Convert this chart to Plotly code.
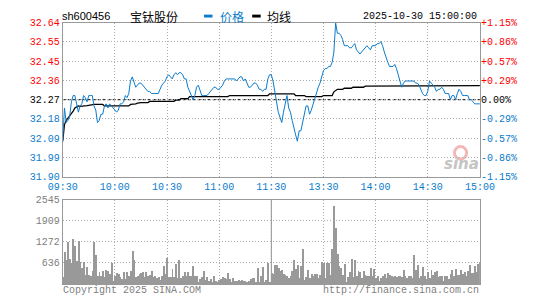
import numpy as np
import plotly.graph_objects as go

# ---------------- data ----------------
stock_code = "sh600456"
stock_name = "宝钛股份"
timestamp = "2025-10-30 15:00:00"
prev_close = 32.27
pct_max = 1.15

time_labels = ["09:30", "10:00", "10:30", "11:00", "11:30", "13:30", "14:00", "14:30", "15:00"]
price_labels = ["32.64", "32.55", "32.45", "32.36", "32.27", "32.18", "32.09", "31.99", "31.90"]
pct_labels = ["+1.15%", "+0.86%", "+0.57%", "+0.29%", "0.00%", "-0.29%", "-0.57%", "-0.86%", "-1.15%"]
vol_labels = ["636", "1272", "1909", "2545"]
vol_max = 2545

price = [
    32.07, 32.23, 32.16, 32.17, 32.19, 32.26, 32.29, 32.29, 32.25, 32.21,
    32.24, 32.25, 32.29, 32.28, 32.26, 32.29, 32.29, 32.29, 32.24, 32.22,
    32.16, 32.17, 32.20, 32.20, 32.24, 32.25, 32.23, 32.25, 32.24, 32.23,
    32.22, 32.21, 32.22, 32.25, 32.25, 32.26, 32.29, 32.28, 32.30, 32.36,
    32.38, 32.35, 32.33, 32.34, 32.35, 32.35, 32.34, 32.33, 32.32, 32.31,
    32.31, 32.30, 32.30, 32.30, 32.30, 32.30, 32.32, 32.34, 32.35, 32.36,
    32.38, 32.39, 32.38, 32.37, 32.39, 32.40, 32.39, 32.40, 32.40, 32.39,
    32.37, 32.37, 32.33, 32.31, 32.29, 32.27, 32.29, 32.33, 32.34, 32.31,
    32.29, 32.29, 32.29, 32.29, 32.30, 32.31, 32.32, 32.33, 32.33, 32.32,
    32.32, 32.33, 32.34, 32.36, 32.37, 32.37, 32.37, 32.37, 32.37, 32.37,
    32.36, 32.37, 32.38, 32.38, 32.36, 32.37, 32.35, 32.33, 32.33, 32.34,
    32.35, 32.35, 32.34, 32.32, 32.32, 32.31, 32.32, 32.32, 32.37, 32.39,
    32.39,
    32.36, 32.30, 32.26, 32.21, 32.18, 32.16, 32.21, 32.26, 32.29, 32.23,
    32.21, 32.17, 32.13, 32.10, 32.07, 32.12, 32.12, 32.16, 32.21, 32.24,
    32.24, 32.20, 32.22, 32.25, 32.28, 32.30, 32.33, 32.35, 32.38, 32.41,
    32.42, 32.42, 32.43, 32.43, 32.45, 32.50, 32.64, 32.59, 32.59, 32.58,
    32.56, 32.53, 32.53, 32.53, 32.52, 32.52, 32.53, 32.54, 32.51, 32.50,
    32.49, 32.50, 32.51, 32.52, 32.53, 32.52, 32.51, 32.53, 32.53, 32.53,
    32.54, 32.54, 32.55, 32.53, 32.50, 32.47, 32.45, 32.43, 32.43, 32.43,
    32.44, 32.42, 32.39, 32.36, 32.33, 32.35, 32.36, 32.36, 32.36, 32.36,
    32.36, 32.36, 32.35, 32.35, 32.34, 32.32, 32.30, 32.29, 32.29, 32.31,
    32.36, 32.35, 32.34, 32.33, 32.31, 32.32, 32.32, 32.33, 32.32, 32.30,
    32.30, 32.30, 32.27, 32.29, 32.29, 32.27, 32.30, 32.32, 32.31, 32.29,
    32.29, 32.29, 32.29, 32.27, 32.27, 32.26, 32.25, 32.25, 32.25, 32.25,
]

avg_price = [
    32.070, 32.150, 32.170, 32.180, 32.195, 32.200, 32.215, 32.230, 32.235, 32.240,
    32.238, 32.238, 32.240, 32.240, 32.241, 32.243, 32.245, 32.247, 32.247, 32.247,
    32.247, 32.247, 32.247, 32.247, 32.240, 32.240, 32.240, 32.240, 32.240, 32.240,
    32.240, 32.240, 32.240, 32.240, 32.240, 32.240, 32.240, 32.240, 32.240, 32.247,
    32.247, 32.247, 32.250, 32.253, 32.256, 32.256, 32.256, 32.256, 32.256, 32.256,
    32.262, 32.262, 32.262, 32.262, 32.262, 32.262, 32.262, 32.262, 32.262, 32.262,
    32.262, 32.262, 32.262, 32.262, 32.262, 32.268, 32.268, 32.268, 32.275, 32.275,
    32.275, 32.275, 32.275, 32.285, 32.285, 32.285, 32.285, 32.285, 32.285, 32.285,
    32.285, 32.285, 32.285, 32.285, 32.285, 32.285, 32.285, 32.285, 32.285, 32.285,
    32.285, 32.285, 32.285, 32.285, 32.285, 32.285, 32.290, 32.290, 32.290, 32.290,
    32.290, 32.290, 32.290, 32.290, 32.290, 32.290, 32.290, 32.290, 32.290, 32.290,
    32.290, 32.290, 32.290, 32.290, 32.290, 32.290, 32.290, 32.290, 32.290, 32.298,
    32.298,
    32.298, 32.298, 32.298, 32.298, 32.298, 32.298, 32.298, 32.298, 32.298, 32.298,
    32.298, 32.298, 32.298, 32.290, 32.290, 32.290, 32.290, 32.290, 32.290, 32.285,
    32.285, 32.285, 32.285, 32.285, 32.285, 32.285, 32.285, 32.285, 32.285, 32.290,
    32.290, 32.290, 32.290, 32.290, 32.290, 32.308, 32.315, 32.320, 32.320, 32.320,
    32.320, 32.325, 32.325, 32.325, 32.325, 32.325, 32.330, 32.330, 32.330, 32.330,
    32.330, 32.330, 32.330, 32.335, 32.335, 32.335, 32.335, 32.335, 32.335, 32.335,
    32.338, 32.338, 32.338, 32.338, 32.338, 32.338, 32.338, 32.338, 32.338, 32.338,
    32.338, 32.338, 32.338, 32.338, 32.338, 32.338, 32.338, 32.338, 32.338, 32.338,
    32.338, 32.338, 32.338, 32.338, 32.338, 32.338, 32.338, 32.338, 32.338, 32.338,
    32.338, 32.338, 32.338, 32.338, 32.338, 32.338, 32.338, 32.338, 32.338, 32.338,
    32.338, 32.338, 32.338, 32.338, 32.338, 32.338, 32.338, 32.338, 32.338, 32.338,
    32.338, 32.338, 32.338, 32.338, 32.338, 32.338, 32.338, 32.338, 32.338, 32.338,
]

vol_am = [
    213, 973, 740, 1278, 770, 650, 1380, 1156, 690, 1308,
    670, 487, 670, 284, 517, 284, 243, 406, 1278, 892,
    243, 385, 243, 406, 213, 436, 406, 304, 650, 112,
    243, 345, 314, 213, 162, 385, 162, 385, 243, 416,
    1014, 740, 213, 264, 314, 345, 385, 213, 365, 243,
    284, 416, 213, 243, 182, 213, 142, 243, 548, 314,
    791, 213, 213, 467, 213, 619, 182, 720, 182, 243,
    365, 243, 365, 243, 243, 548, 243, 243, 81, 162,
    213, 416, 142, 213, 112, 162, 81, 243, 112, 81,
    142, 162, 213, 182, 162, 345, 162, 81, 182, 112,
    112, 142, 112, 142, 112, 112, 81, 112, 162, 182,
    182, 61, 487, 81, 243, 517, 81, 142, 650, 81,
    345,
]
vol_pm = [
    314, 588, 588, 487, 416, 446, 314, 284, 264, 182,
    243, 416, 720, 467, 588, 182, 548, 1075, 142, 213,
    446, 182, 314, 243, 314, 314, 182, 284, 670, 650,
    182, 650, 650, 284, 1055, 2373, 1714, 923, 548, 487,
    284, 619, 81, 213, 365, 750, 213, 720, 243, 416,
    385, 182, 416, 284, 243, 243, 507, 243, 467, 182,
    243, 112, 182, 243, 314, 182, 345, 284, 243, 213,
    243, 213, 243, 243, 213, 446, 243, 182, 243, 243,
    182, 892, 446, 568, 182, 243, 517, 243, 162, 365,
    182, 446, 284, 385, 416, 213, 243, 243, 112, 243,
    243, 162, 314, 446, 264, 467, 284, 284, 446, 314,
    365, 243, 416, 588, 345, 345, 548, 385, 619, 670,
]
volume = vol_am + vol_pm
minutes = list(range(len(price)))
lunch_index = len(vol_am) - 1

# ---------------- layout helpers ----------------
W, H = 545, 300
def fx(x):
    return x / W
def fy(y):
    return 1 - y / H

PLOT_L, PLOT_R = 50.5, 492.0
MAIN_T, MAIN_B = 18.3, 178.3
VOL_T, VOL_B = 202.0, 289.5

RED, BLACK, BLUE = "#ff0000", "#000000", "#0a7ccc"
LINE_BLUE = "#0b7bcc"
GRID = "#aaaaaa"
BORDER = "#999999"
GRAY_TXT = "#808080"
MONO = "Liberation Mono"

lo = prev_close * (1 - pct_max / 100)
hi = prev_close * (1 + pct_max / 100)
ytickvals = np.linspace(hi, lo, len(price_labels))
lab_colors = [RED] * 4 + [BLACK] + [BLUE] * 4
left_text = [f'<span style="color:{c}">{t}</span>' for c, t in zip(lab_colors, price_labels)]
right_text = [f'<span style="color:{c}">{t}</span>' for c, t in zip(lab_colors, pct_labels)]
xtickvals = list(range(0, len(price), 30))

fig = go.Figure()
fig.add_trace(go.Bar(x=minutes, y=volume, xaxis="x2", yaxis="y3",
                     marker=dict(color="#999999", line=dict(width=0)), width=0.55,
                     hoverinfo="skip"))
fig.add_trace(go.Scatter(x=minutes, y=avg_price, mode="lines",
                         line=dict(color=BLACK, width=1.3), hoverinfo="skip"))
fig.add_trace(go.Scatter(x=minutes, y=price, mode="lines",
                         line=dict(color=LINE_BLUE, width=1), hoverinfo="skip"))
fig.add_trace(go.Scatter(x=[minutes[0]], y=[prev_close], yaxis="y2", mode="markers",
                         marker=dict(opacity=0), hoverinfo="skip"))

axis_common = dict(showline=True, mirror=True, linecolor=BORDER, linewidth=1,
                   gridcolor=GRID, griddash="1px,2px", gridwidth=1, zeroline=False,
                   ticks="", fixedrange=True)

fig.update_layout(
    width=W, height=H, autosize=False,
    margin=dict(l=0, r=0, t=0, b=0),
    paper_bgcolor="white", plot_bgcolor="white",
    showlegend=False, bargap=0,
    xaxis=dict(domain=[fx(PLOT_L), fx(PLOT_R)], range=[0, len(price) - 1], anchor="y",
               tickvals=xtickvals, ticktext=time_labels,
               tickfont=dict(family=MONO, size=10, color=BLUE), showgrid=True, **axis_common),
    yaxis=dict(domain=[fy(MAIN_B), fy(MAIN_T)], range=[lo, hi], anchor="x",
               tickvals=ytickvals, ticktext=left_text,
               tickfont=dict(family=MONO, size=10, color=BLACK), showgrid=True, **axis_common),
    yaxis2=dict(overlaying="y", side="right", range=[lo, hi], anchor="x",
                tickvals=ytickvals, ticktext=right_text, showgrid=False,
                tickfont=dict(family=MONO, size=10, color=BLACK), showline=False,
                zeroline=False, ticks="", fixedrange=True),
    xaxis2=dict(domain=[fx(PLOT_L), fx(PLOT_R)], range=[0, len(price) - 1], anchor="y3",
                tickvals=xtickvals, showticklabels=False, showgrid=True, **axis_common),
    yaxis3=dict(domain=[fy(VOL_B), fy(VOL_T)], range=[0, vol_max], anchor="x2",
                tickvals=[vol_max * k / 4 for k in range(1, 5)], ticktext=vol_labels,
                tickfont=dict(family=MONO, size=10, color=GRAY_TXT), showgrid=True, **axis_common),
)

shapes = [
    dict(type="line", xref="x", yref="y", x0=0, x1=len(price) - 1, y0=prev_close, y1=prev_close,
         line=dict(color=BLACK, width=1, dash="3px,2px"), layer="below"),
    dict(type="line", xref="x2", yref="paper", x0=lunch_index, x1=lunch_index,
         y0=fy(VOL_B), y1=fy(VOL_T), line=dict(color="#888888", width=1), layer="below"),
    # legend swatches
    dict(type="rect", xref="paper", yref="paper", x0=fx(200), x1=fx(209), y0=fy(13), y1=fy(10),
         fillcolor=LINE_BLUE, line=dict(width=0)),
    dict(type="rect", xref="paper", yref="paper", x0=fx(251), x1=fx(260), y0=fy(13), y1=fy(10),
         fillcolor=BLACK, line=dict(width=0)),
    # watermark eye
    dict(type="circle", xref="paper", yref="paper", x0=fx(465), x1=fx(478), y0=fy(160), y1=fy(147),
         fillcolor="rgba(0,0,0,0)", line=dict(color="#f2b8b8", width=3), layer="below"),
]
fig.update_layout(shapes=shapes)

def ann(text, x, y, anchor="left", size=10, color=BLACK, family=MONO):
    return dict(text=text, xref="paper", yref="paper", x=fx(x), y=fy(y),
                xanchor=anchor, yanchor="middle", showarrow=False,
                font=dict(family=family, size=size, color=color))

annotations = [
    ann(stock_code, 48, 11.5, size=11, family="Liberation Sans"),
    ann(stock_name, 120, 11.5, size=12, family="Noto Sans CJK SC"),
    ann("价格", 215, 11.5, size=12, color=LINE_BLUE, family="Noto Sans CJK SC"),
    ann("均线", 265, 11.5, size=12, family="Noto Sans CJK SC"),
    ann(timestamp, 491, 11.5, anchor="right"),
    ann("Copyright 2025 SINA.COM", 49, 296),
    ann("http://finance.sina.com.cn", 493, 296, anchor="right"),
    ann("<b><i>sina</i></b>", 473, 165, anchor="center", size=15, color="#c4c4c4",
        family="DejaVu Sans"),
]
annotations[4]["font"]["color"] = BLACK
annotations[5]["font"]["color"] = GRAY_TXT
annotations[6]["font"]["color"] = GRAY_TXT
fig.update_layout(annotations=annotations)

fig.write_html("out.html")
